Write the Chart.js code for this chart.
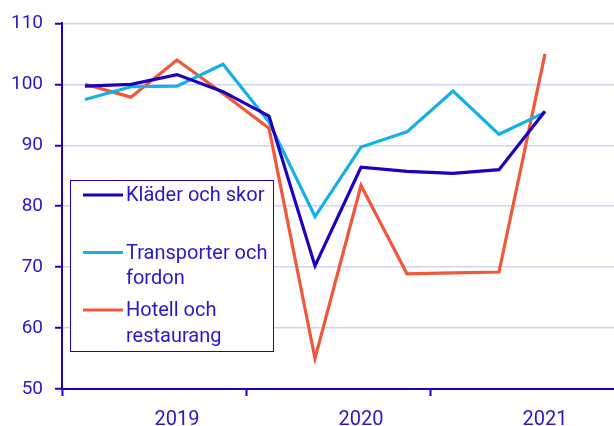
<!DOCTYPE html>
<html>
<head>
<meta charset="utf-8">
<script src="https://cdn.jsdelivr.net/npm/chart.js@4"></script>
<style>
  body { margin: 0; background: #fff; }
</style>
</head>
<body>
<canvas id="lineChart" width="614" height="426"></canvas>
<script>
// quarters 2019 K1 .. 2021 K4 (last quarter has no data yet)
const categories = ['2019 K1', '2019 K2', '2019 K3', '2019 K4',
                    '2020 K1', '2020 K2', '2020 K3', '2020 K4',
                    '2021 K1', '2021 K2', '2021 K3', '2021 K4'];
const seriesNames = ['Kläder och skor', 'Transporter och fordon', 'Hotell och restaurang'];
const kladerOchSkor = [99.7, 100.0, 101.6, 98.8, 94.8, 70.2, 86.4, 85.7, 85.4, 86.0, 95.6];
const transporterOchFordon = [97.5, 99.6, 99.7, 103.3, 93.8, 78.3, 89.7, 92.2, 98.9, 91.8, 95.4];
const hotellOchRestaurang = [100.0, 97.9, 104.0, 98.5, 92.8, 55.0, 83.4, 68.9, 69.05, 69.2, 105.0];
const yTicks = [50, 60, 70, 80, 90, 100, 110];
// legend text, split the way it wraps in the box
const legendLines = [['Kläder och skor', ''], ['Transporter och', 'fordon'], ['Hotell och', 'restaurang']];

const textColor = '#2818c6';
const axisColor = '#1e00be';
const gridColor = '#d4d2f3';
const colors = ['#1e00be', '#14b1e7', '#f0583a'];

// legend drawn by hand: boxed, with two-line labels
const boxLegend = {
    id: 'boxLegend',
    afterDraw(chart) {
        const ctx = chart.ctx;
        const x = 70, y = 180, w = 203, h = 171;
        ctx.save();
        ctx.fillStyle = '#fff';
        ctx.fillRect(x, y, w, h);
        ctx.strokeStyle = axisColor;
        ctx.lineWidth = 1;
        ctx.strokeRect(x + 0.5, y + 0.5, w, h);
        ctx.font = '20px Roboto';
        ctx.textBaseline = 'middle';
        ctx.fillStyle = textColor;
        chart.data.datasets.forEach((ds, i) => {
            const cy = 195 + i * 57.5;
            ctx.strokeStyle = ds.borderColor;
            ctx.lineWidth = 3;
            ctx.beginPath();
            ctx.moveTo(83, cy);
            ctx.lineTo(123, cy);
            ctx.stroke();
            legendLines[i].forEach((line, j) => {
                ctx.fillText(line, 126, cy + 1 + j * 25.5);
            });
        });
        ctx.restore();
    }
};

const datasets = [kladerOchSkor, transporterOchFordon, hotellOchRestaurang].map((values, i) => ({
    label: seriesNames[i],
    data: values,
    borderColor: colors[i],
    backgroundColor: colors[i],
    borderWidth: 3.2,
    pointRadius: 0,
    tension: 0,
    fill: false
}));

new Chart(document.getElementById('lineChart'), {
    type: 'line',
    data: { labels: categories, datasets: datasets },
    options: {
        responsive: false,
        animation: false,
        layout: { padding: { top: 20, right: 0, left: 0, bottom: 0 } },
        plugins: {
            legend: { display: false },
            tooltip: { enabled: false }
        },
        scales: {
            x: {
                offset: true,
                grid: {
                    offset: true,
                    drawOnChartArea: false,
                    tickLength: 7,
                    tickWidth: 2,
                    tickColor: ctx => ctx.index % 4 === 0 ? axisColor : 'rgba(0,0,0,0)'
                },
                border: { color: axisColor, width: 2 },
                ticks: {
                    autoSkip: false,
                    maxRotation: 0,
                    padding: 12,
                    color: textColor,
                    font: { family: 'Roboto', size: 20 },
                    callback: function (value, index) {
                        const label = categories[index];
                        return label.endsWith('K3') ? label.slice(0, 4) : '';
                    }
                },
                afterFit: scale => { scale.height = 37; }
            },
            y: {
                min: yTicks[0],
                max: yTicks[yTicks.length - 1],
                afterBuildTicks: scale => { scale.ticks = yTicks.map(v => ({ value: v })); },
                grid: {
                    color: gridColor,
                    lineWidth: 1.5,
                    tickColor: axisColor,
                    tickLength: 7,
                    tickWidth: 2
                },
                border: { color: axisColor, width: 2 },
                ticks: {
                    padding: 12,
                    color: textColor,
                    font: { family: 'Roboto', size: 19 }
                },
                afterFit: scale => { scale.width = 62; }
            }
        }
    },
    plugins: [boxLegend]
});
</script>
</body>
</html>
